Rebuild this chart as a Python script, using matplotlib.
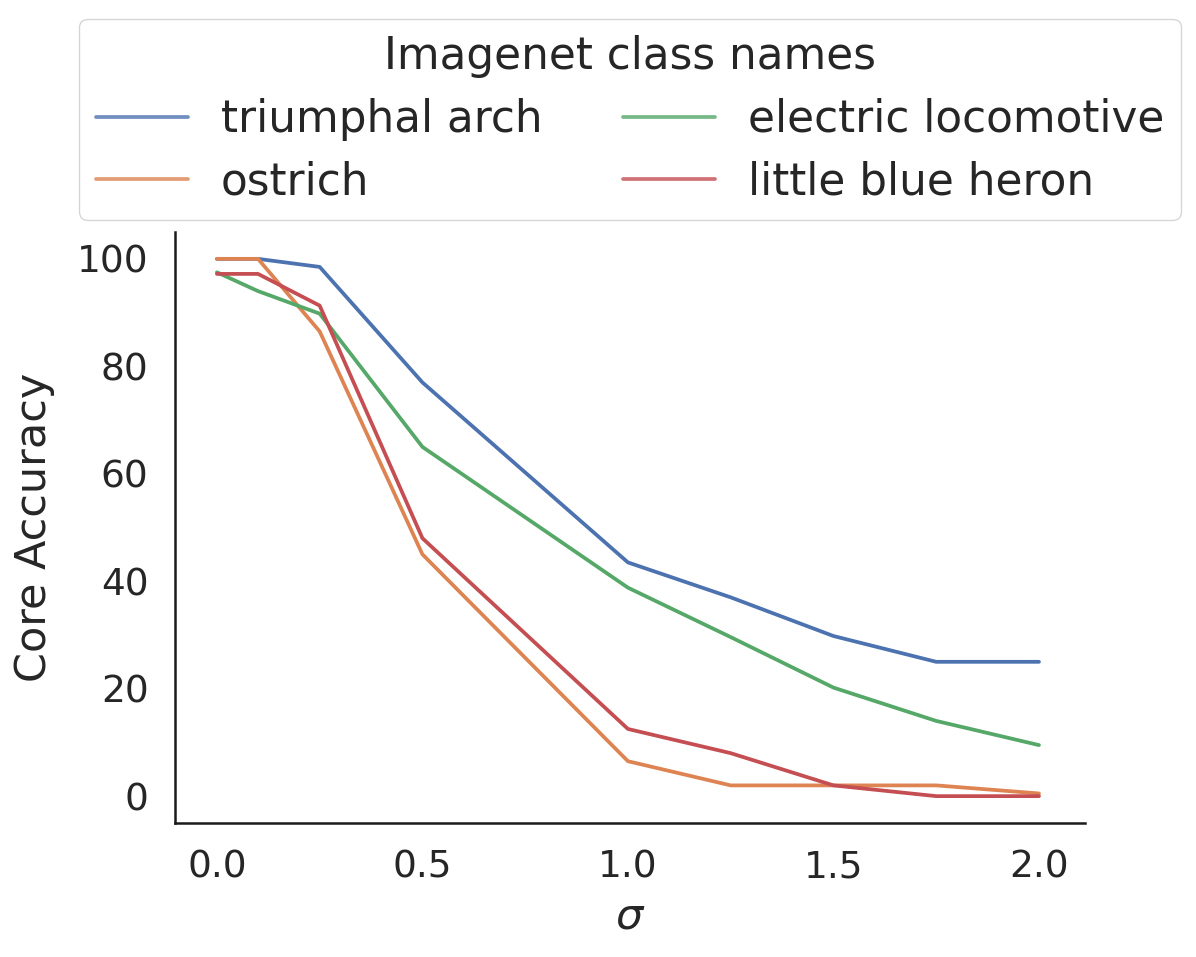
import matplotlib
matplotlib.use("Agg")
import matplotlib.pyplot as plt
import seaborn as sns

sigma = [0.0, 0.1, 0.25, 0.5, 1.0, 1.25, 1.5, 1.75, 2.0]
class_names = ["triumphal arch", "ostrich", "electric locomotive", "little blue heron"]
triumphal_arch = [100, 100, 98.5, 77, 43.5, 37, 29.8, 25, 25]
ostrich = [100, 100, 86.5, 45, 6.5, 2, 2, 2, 0.5]
electric_locomotive = [97.5, 94, 89.8, 65, 38.8, 29.6, 20.2, 14, 9.5]
little_blue_heron = [97.2, 97.2, 91.3, 48, 12.5, 8, 2, 0, 0]
series = [triumphal_arch, ostrich, electric_locomotive, little_blue_heron]

sns.set_theme(style="white", palette="deep")
plt.rcParams['font.family'] = ['DejaVu Sans']

fig = plt.figure(figsize=(11.96, 9.57), dpi=100)
ax = fig.add_axes([175/1196, 1 - 823/957, (1085-175)/1196, (823-232)/957])

colors = sns.color_palette("deep")
for name, vals, c in zip(class_names, series, colors):
    ax.plot(sigma, vals, color=c, lw=2.7, label=name)

ax.set_xlim(-0.102, 2.112)
ax.set_xticks([0.0, 0.5, 1.0, 1.5, 2.0])
ax.set_yticks([0, 20, 40, 60, 80, 100])
ax.tick_params(labelsize=27, colors='.15', length=0, pad=19)
ax.set_xlabel(r"$\sigma$", fontsize=31, color='.15', labelpad=7)
ax.set_ylabel("Core Accuracy", fontsize=31, color='.15', labelpad=16)
sns.despine(ax=ax)
for s in ["left", "bottom"]:
    ax.spines[s].set_color('.1')
    ax.spines[s].set_linewidth(1.8)

leg = ax.legend(title="Imagenet class names", ncol=2, loc="lower center",
                bbox_to_anchor=(0.5, 1.02), borderaxespad=0.0,
                fontsize=31.5, title_fontsize=31.5,
                handlelength=2.1, handletextpad=0.75, columnspacing=1.85,
                labelspacing=0.45, borderpad=0.38)
for h in leg.get_lines():
    h.set_alpha(0.8)

fig.savefig("out.png", dpi=100)
